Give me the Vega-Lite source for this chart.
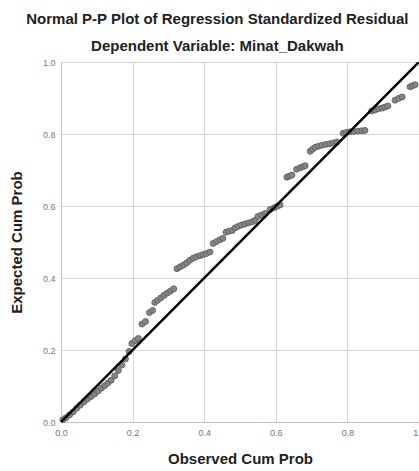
{
  "$schema": "https://vega.github.io/schema/vega-lite/v6.json",
  "width": 358,
  "height": 360,
  "autosize": {"type": "none"},
  "padding": {"left": 61, "top": 62, "right": 0, "bottom": 49},
  "background": "white",
  "title": {
    "text": "Normal P-P Plot of Regression Standardized Residual",
    "subtitle": "Dependent Variable: Minat_Dakwah",
    "anchor": "middle",
    "frame": "bounds",
    "font": "Liberation Sans",
    "fontSize": 15,
    "fontWeight": "bold",
    "color": "#222222",
    "subtitleFont": "Liberation Sans",
    "subtitleFontSize": 15,
    "subtitleFontWeight": "bold",
    "subtitleColor": "#222222",
    "subtitlePadding": 12,
    "offset": 4
  },
  "config": {
    "view": {"stroke": "#d4d4d4", "strokeWidth": 1},
    "axis": {
      "grid": true,
      "gridColor": "#d6d6d6",
      "gridWidth": 1,
      "ticks": false,
      "domainColor": "#c4c4c4",
      "labelFont": "Liberation Sans",
      "labelFontSize": 9,
      "labelColor": "#777777",
      "labelFlush": false,
      "titleFont": "Liberation Sans",
      "titleFontSize": 15,
      "titleFontWeight": "bold",
      "titleColor": "#222222"
    }
  },
  "datasets": {
    "pts": [
      {"obs": 0.005, "exp": 0.006}, {"obs": 0.014, "exp": 0.012}, {"obs": 0.024, "exp": 0.02},
      {"obs": 0.034, "exp": 0.028}, {"obs": 0.044, "exp": 0.038}, {"obs": 0.054, "exp": 0.047},
      {"obs": 0.064, "exp": 0.056}, {"obs": 0.074, "exp": 0.064}, {"obs": 0.084, "exp": 0.071},
      {"obs": 0.094, "exp": 0.078}, {"obs": 0.104, "exp": 0.086}, {"obs": 0.113, "exp": 0.094},
      {"obs": 0.122, "exp": 0.101}, {"obs": 0.131, "exp": 0.108}, {"obs": 0.140, "exp": 0.116},
      {"obs": 0.150, "exp": 0.128}, {"obs": 0.160, "exp": 0.143}, {"obs": 0.170, "exp": 0.158},
      {"obs": 0.180, "exp": 0.175}, {"obs": 0.190, "exp": 0.196}, {"obs": 0.198, "exp": 0.218},
      {"obs": 0.207, "exp": 0.226}, {"obs": 0.216, "exp": 0.232}, {"obs": 0.226, "exp": 0.272},
      {"obs": 0.236, "exp": 0.279}, {"obs": 0.247, "exp": 0.304}, {"obs": 0.256, "exp": 0.31},
      {"obs": 0.262, "exp": 0.332}, {"obs": 0.270, "exp": 0.338}, {"obs": 0.279, "exp": 0.345},
      {"obs": 0.288, "exp": 0.352}, {"obs": 0.297, "exp": 0.358}, {"obs": 0.306, "exp": 0.364},
      {"obs": 0.315, "exp": 0.37}, {"obs": 0.324, "exp": 0.426}, {"obs": 0.333, "exp": 0.431},
      {"obs": 0.342, "exp": 0.436}, {"obs": 0.351, "exp": 0.442}, {"obs": 0.360, "exp": 0.449},
      {"obs": 0.369, "exp": 0.455}, {"obs": 0.378, "exp": 0.459}, {"obs": 0.388, "exp": 0.462},
      {"obs": 0.397, "exp": 0.465}, {"obs": 0.406, "exp": 0.468}, {"obs": 0.416, "exp": 0.472},
      {"obs": 0.425, "exp": 0.496}, {"obs": 0.434, "exp": 0.501}, {"obs": 0.444, "exp": 0.506},
      {"obs": 0.452, "exp": 0.51}, {"obs": 0.461, "exp": 0.527}, {"obs": 0.469, "exp": 0.53},
      {"obs": 0.478, "exp": 0.532}, {"obs": 0.486, "exp": 0.539}, {"obs": 0.494, "exp": 0.543},
      {"obs": 0.504, "exp": 0.547}, {"obs": 0.514, "exp": 0.55}, {"obs": 0.524, "exp": 0.553},
      {"obs": 0.534, "exp": 0.556}, {"obs": 0.542, "exp": 0.56}, {"obs": 0.550, "exp": 0.571},
      {"obs": 0.560, "exp": 0.575}, {"obs": 0.570, "exp": 0.579}, {"obs": 0.584, "exp": 0.59},
      {"obs": 0.595, "exp": 0.595}, {"obs": 0.604, "exp": 0.599}, {"obs": 0.612, "exp": 0.603},
      {"obs": 0.631, "exp": 0.68}, {"obs": 0.638, "exp": 0.683}, {"obs": 0.645, "exp": 0.686},
      {"obs": 0.658, "exp": 0.702}, {"obs": 0.668, "exp": 0.706}, {"obs": 0.675, "exp": 0.709},
      {"obs": 0.682, "exp": 0.712}, {"obs": 0.696, "exp": 0.752}, {"obs": 0.703, "exp": 0.758},
      {"obs": 0.710, "exp": 0.763}, {"obs": 0.719, "exp": 0.766}, {"obs": 0.729, "exp": 0.769},
      {"obs": 0.740, "exp": 0.771}, {"obs": 0.751, "exp": 0.773}, {"obs": 0.761, "exp": 0.775},
      {"obs": 0.771, "exp": 0.778}, {"obs": 0.788, "exp": 0.802}, {"obs": 0.797, "exp": 0.804},
      {"obs": 0.807, "exp": 0.806}, {"obs": 0.818, "exp": 0.807}, {"obs": 0.830, "exp": 0.808},
      {"obs": 0.840, "exp": 0.809}, {"obs": 0.849, "exp": 0.81}, {"obs": 0.868, "exp": 0.864},
      {"obs": 0.877, "exp": 0.867}, {"obs": 0.887, "exp": 0.87}, {"obs": 0.897, "exp": 0.872},
      {"obs": 0.905, "exp": 0.875}, {"obs": 0.913, "exp": 0.878}, {"obs": 0.933, "exp": 0.894},
      {"obs": 0.943, "exp": 0.899}, {"obs": 0.953, "exp": 0.903}, {"obs": 0.975, "exp": 0.931},
      {"obs": 0.982, "exp": 0.934}, {"obs": 0.989, "exp": 0.937}
    ],
    "diag": [
      {"obs": 0, "exp": 0},
      {"obs": 1, "exp": 1}
    ]
  },
  "layer": [
    {
      "data": {"name": "pts"},
      "mark": {"type": "point", "shape": "circle", "filled": true, "size": 36, "color": "#858585", "stroke": "#5a5a5a", "strokeWidth": 0.8, "opacity": 1},
      "encoding": {
        "x": {
          "field": "obs", "type": "quantitative",
          "scale": {"domain": [0, 1], "nice": false, "zero": false},
          "axis": {"title": "Observed Cum Prob", "values": [0, 0.2, 0.4, 0.6, 0.8, 1], "format": ".1f", "labelPadding": 6, "titlePadding": 14}
        },
        "y": {
          "field": "exp", "type": "quantitative",
          "scale": {"domain": [0, 1], "nice": false, "zero": false},
          "axis": {"title": "Expected Cum Prob", "values": [0, 0.2, 0.4, 0.6, 0.8, 1], "format": ".1f", "labelPadding": 6, "titlePadding": 18}
        }
      }
    },
    {
      "data": {"name": "diag"},
      "mark": {"type": "line", "color": "#000000", "strokeWidth": 2.5, "clip": true},
      "encoding": {
        "x": {"field": "obs", "type": "quantitative"},
        "y": {"field": "exp", "type": "quantitative"}
      }
    }
  ]
}
